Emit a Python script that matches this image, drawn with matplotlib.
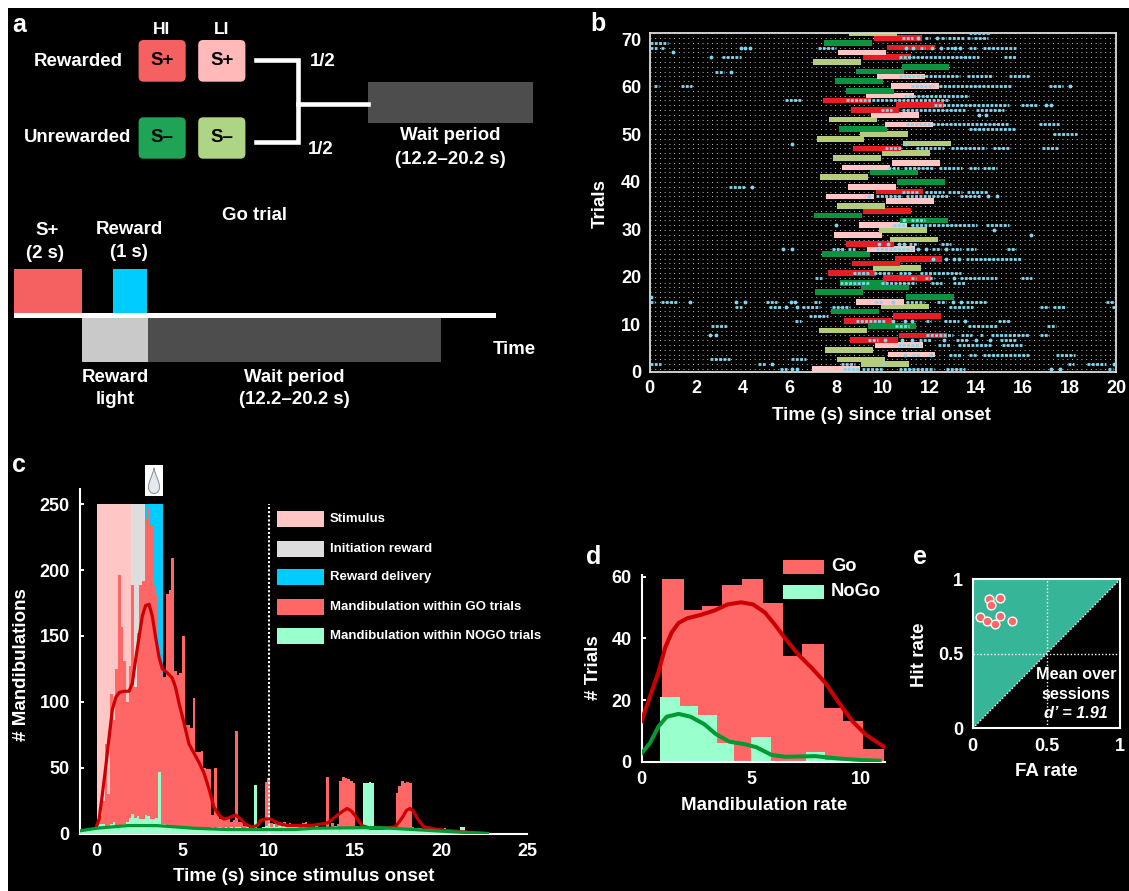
import numpy as np
import matplotlib
matplotlib.use("Agg")
import matplotlib.pyplot as plt
from matplotlib.patches import Rectangle, FancyBboxPatch, PathPatch, Polygon
from matplotlib.path import Path

plt.rcParams['font.family'] = ['Liberation Sans', 'DejaVu Sans']
plt.rcParams['font.weight'] = 'bold'
plt.rcParams['axes.labelweight'] = 'bold'

W, H = 1129, 891
PINK, RED, GREEN, OLIVE = '#ffc6c6', '#e81c24', '#0a9440', '#b5cd7a'

# ---- panel b: stimulus onset per trial (trial 0..70), stimulus type, mandibulation runs
stim_onset = [6.96, 9.08, 8.04, 10.2, 7.52, 9.66, 8.58, 10.69, 7.25, 9.37, 8.33, 10.43, 7.78, 9.92, 8.85,
              10.98, 7.09, 9.05, 8.14, 10.02, 7.65, 9.57, 8.68, 10.5, 7.38, 9.31, 8.42, 10.3, 7.91, 9.85,
              8.97, 10.74, 7.04, 9.15, 8.03, 10.14, 7.58, 9.69, 8.5, 10.6, 7.3, 9.44, 8.26, 10.4, 7.85,
              9.96, 8.72, 10.86, 7.16, 9.02, 8.11, 10.09, 7.69, 9.5, 8.62, 10.57, 7.43, 9.27, 8.42, 10.35,
              7.95, 9.75, 8.85, 10.8, 7.0, 9.14, 8.07, 10.18, 7.48, 9.62, 8.55]
stim_type = list("POOPOPRROG" "RRGOPGGGGR" "RORRGPROPO" "PGGROPPRPG" "OGPPOOROOO" "GPOPRRRPGP" "GPGGORPRGR" "O")
stim_duration = 2.05
spike_runs = {
    70: [(13.7, 14.6)],
    69: [(10.8, 11.3), 11.5, (11.8, 12.0), 12.3, (12.5, 12.7), (12.8, 13.5), (13.6, 13.8), (13.9, 14.5)],
    68: [(0.0, 0.8)],
    67: [(0.0, 0.3), (0.5, 0.6), 3.9, 4.1, 4.3, (7.2, 8.0), 11.0, 11.3, (11.6, 11.8), 12.1, 12.5, (12.7, 13.0), 13.1, 13.3, (13.7, 14.0), (14.3, 15.7)],
    66: [1.0],
    65: [2.65, (3.1, 3.9), (10.7, 14.1), (15.2, 15.7)],
    62: [(2.8, 3.2), 3.5],
    61: [(10.7, 13.3), (13.6, 14.7), (15.4, 16.3)],
    59: [(0.2, 0.4), (1.35, 1.8), (11.2, 12.2), (12.4, 15.5), (17.1, 17.7), 18.0],
    57: [(10.9, 13.7)],
    56: [(5.8, 6.5), (8.4, 12.8)],
    55: [(12.2, 15.4), (15.9, 16.6), 17.0, 17.2],
    54: [(9.9, 10.4), (10.8, 13.5), (14.0, 15.2)],
    53: [14.1, 14.4],
    51: [(11.0, 12.0), (12.1, 15.4), (16.7, 17.6)],
    50: [(13.7, 15.7)],
    49: [(17.3, 18.3)],
    47: [6.1, 11.0],
    46: [(10.1, 10.8), (11.4, 12.6), (12.9, 14.4), (14.7, 15.4), (16.8, 17.5)],
    42: [(10.2, 10.7), (10.9, 12.2), (12.4, 13.4), (13.7, 14.1), (14.3, 14.9)],
    38: [(3.4, 4.1), 4.4],
    37: [(10.8, 11.5), (11.8, 12.6), (12.8, 13.4), (13.6, 14.5)],
    36: [9.4, (9.7, 10.8), (11.0, 12.8), (13.3, 14.2), 14.5, 14.9],
    31: [10.9, (11.2, 11.8)],
    30: [8.0, (10.45, 11.0), (11.2, 14.05), (14.4, 15.4)],
    29: [14.75],
    28: [16.35],
    26: [9.85, 10.2, 10.7, 10.9, (11.1, 11.5), (12.5, 12.9)],
    25: [5.7, 6.1, (7.8, 8.35), (8.5, 8.8), (9.7, 11.3), 11.5, 11.85, (12.1, 12.5), 12.7, (12.9, 13.35), (13.55, 14.0), (15.3, 15.7)],
    23: [12.15, 12.7, 13.05, 13.25, (13.55, 15.95)],
    20: [(8.7, 9.4), (9.6, 10.4), (10.7, 11.2), (11.6, 13.35)],
    19: [(7.1, 7.4), (11.2, 11.4), (11.8, 12.2), 13.05, (13.3, 14.9), (15.9, 16.4)],
    18: [(8.15, 9.4), (9.9, 11.4), (12.05, 12.55), (13.0, 13.5)],
    15: [0.05],
    14: [(0.0, 0.25), (0.5, 1.2), 1.75, 3.7, 4.1, (5.0, 5.45), 6.05, 6.25, (7.05, 7.3), (9.65, 9.95), 10.45, (11.0, 11.75), (12.3, 12.7), 13.0, 13.35, (13.55, 14.45), (19.55, 20.0)],
    13: [(3.65, 3.95), (5.1, 5.65), 5.85, 6.3, (6.55, 7.3), (7.8, 8.6), (12.85, 13.85), (16.75, 17.1), (17.3, 17.85), (19.8, 20.0)],
    11: [(6.85, 7.65)],
    10: [(6.25, 6.5), (8.85, 10.15), 10.45, 10.95, 11.25, (11.85, 12.05), (12.6, 13.25), 13.5, (14.95, 15.45)],
    9: [(2.65, 3.3), (10.5, 11.1), (13.65, 14.95), (17.05, 17.4)],
    7: [2.6, 2.85, (11.85, 13.0), (13.35, 13.8), (14.15, 14.35), (14.65, 16.25), (16.75, 17.1)],
    6: [(9.35, 9.8), 10.1, 10.8, 11.25, (11.55, 12.1), 12.6, (13.15, 13.7), 14.0, 14.6, (15.0, 15.75)],
    5: [(10.65, 11.6), (12.35, 12.9), (13.2, 14.65), (15.1, 15.95)],
    3: [10.95, (11.25, 11.55), 12.05, (12.85, 13.35), (13.7, 14.05), (14.3, 16.3), (17.4, 18.25)],
    2: [(2.6, 3.45), (6.05, 6.7)],
    1: [(0.0, 0.5), (4.65, 5.0), 5.25, (8.2, 8.8), (9.95, 10.15), (17.95, 18.2), (18.75, 19.55), 19.9],
    0: [(5.6, 5.9), 6.1, 6.3, (8.3, 9.0), (9.1, 10.0), (10.7, 12.2), (12.7, 13.5), 17.2, 17.6, (19.65, 19.85)],
}

# ---- panel c: histogram counts, bins of 0.155 s from t = 0
bin_width_c = 0.155
go_counts = [10, 13, 25, 68, 30, 106, 86, 125, 196, 157, 131, 100, 127, 189, 111, 152, 189, 192, 239, 247,
             234, 189, 182, 134, 121, 119, 182, 185, 209, 123, 120, 122, 150, 82, 82, 80, 103, 62, 62, 63,
             50, 49, 49, 14, 50, 14, 11, 11, 11, 11, 9, 10, 78, 9, 9, 6, 6, 4, 3, 3,
             0, 2, 2, 39, 42, 8, 5, 8, 9, 7, 9, 6, 8, 6, 7, 6, 7, 8, 9, 6,
             5, 5, 5, 5, 5, 5, 43, 4, 8, 6, 7, 40, 43, 42, 41, 40, 38, 6, 5, 5,
             4, 3, 3, 3, 2, 3, 3, 2, 3, 3, 2, 3, 31, 36, 40, 38, 39, 38, 5, 4,
             4, 4, 3, 2, 1, 3, 2, 1, 3, 1]
nogo_counts = [6, 7, 7, 6, 5, 7, 9, 5, 5, 5, 7, 9, 12, 15, 12, 13, 11, 11, 14, 13,
               11, 11, 12, 47, 7, 7, 6, 5, 5, 5, 5, 4, 5, 4, 5, 4, 5, 5, 4, 5,
               5, 4, 4, 5, 4, 5, 5, 4, 5, 4, 5, 4, 5, 5, 4, 4, 5, 4, 5, 37,
               4, 4, 5, 6, 6, 5, 7, 5, 6, 5, 7, 5, 6, 5, 5, 6, 4, 5, 4, 5,
               5, 5, 6, 5, 5, 4, 5, 4, 5, 6, 5, 4, 5, 5, 4, 5, 4, 5, 5, 6,
               38, 38, 39, 38, 5, 4, 5, 4, 4, 5, 4, 4, 5, 4, 4, 4, 3, 4, 3, 3,
               3, 3, 3, 2, 3, 3, 2, 3, 2, 3, 4, 3, 3, 3, 2, 3, 5, 5, 2, 2, 1, 2, 1]
kde_go_t = [0, .14, .33, .52, .72, .91, 1.10, 1.30, 1.59, 1.88, 2.07, 2.26, 2.46, 2.65, 2.84, 3.04, 3.23, 3.42,
            3.62, 3.81, 4.10, 4.39, 4.58, 4.78, 5.07, 5.36, 5.65, 5.94, 6.23, 6.52, 6.81, 7.10, 7.39, 7.68,
            8.07, 8.36, 8.65, 9.03, 9.32, 9.52, 9.81, 10.1, 10.48, 11.06, 12.42, 13.4, 13.9, 14.3, 14.55, 14.8,
            15.05, 15.4, 15.9, 16.6, 17.35, 17.75, 18.0, 18.2, 18.4, 18.6, 19.0, 19.8, 21.5, 22.5]
kde_go_v = [6, 11, 30, 50, 73, 94, 103, 107, 108, 108, 114, 132, 149, 165, 173, 174, 165, 149,
            134, 125, 122, 118, 111, 99, 84, 68, 61, 54, 46, 34, 20, 14, 11, 12,
            14, 11, 7, 5, 6, 10, 11, 11, 8, 6, 6, 8, 13, 17, 19, 17,
            13, 6, 4, 4, 5, 12, 17.5, 19, 17, 12, 5, 3, 1, .2]
kde_nogo_t = [-1, 0, 1.78, 3.5, 5.65, 7.6, 11.5, 12.6, 16.4, 18.4, 20.4, 22.3, 22.7]
kde_nogo_v = [2, 4, 6, 6, 4, 3, 3, 4, 4.5, 3, 1.5, .2, 0]
legend_c_labels = ['Stimulus', 'Initiation reward', 'Reward delivery',
                   'Mandibulation within GO trials', 'Mandibulation within NOGO trials']
legend_c_colors = ['#ffc6c6', '#dddddd', '#00ccff', '#ff6666', '#99ffcc']
phase_edges = [0, 2.0, 2.78, 3.87]
phase_colors = ['#ffc6c6', '#dddddd', '#00ccff']

# ---- panel d
go_edges_d = [.95, 1.92, 2.77, 3.68, 4.58, 5.55, 6.46, 7.31, 8.29, 9.18, 10.11, 11.03]
go_hist_d = [59.4, 49.3, 50.4, 57.4, 59.4, 51.5, 34.3, 38.2, 17.3, 13.2, 4]
nogo_edges_d = [.85, 1.74, 2.58, 3.42, 4.23, 5.0, 5.89, 7.49, 8.38, 10.1]
nogo_hist_d = [21.1, 18.2, 15.2, 6.2, 0, 8.1, 0, 3.1, 0.5]
kde_d_go_x = [0, .38, .77, 1.08, 1.38, 1.69, 2.08, 2.69, 3.31, 3.92, 4.54, 5.08, 5.62, 6.08, 6.54, 7.15, 7.77, 8.38, 9.0, 9.62, 10.23, 10.69, 11.08]
kde_d_go_y = [13.2, 21, 29, 37, 42, 45, 46.5, 47.6, 49, 51, 51.7, 51, 48.4, 44.4, 40, 34.7, 30.3, 25.5, 19, 13, 8.7, 6.5, 4.7]
kde_d_nogo_x = [0, .38, .77, 1.15, 1.69, 2.23, 2.85, 3.38, 4.0, 4.69, 5.23, 5.92, 6.54, 7.92, 8.85, 10.08, 10.85]
kde_d_nogo_y = [2.7, 6, 11.4, 14.6, 15.5, 14.6, 12.2, 9, 6.5, 5.7, 4.7, 2.2, 1.6, 1.8, 1.1, .5, .3]

# ---- panel e
fa_rate = [0.11, 0.183, 0.126, 0.05, 0.096, 0.149, 0.183, 0.263]
hit_rate = [0.866, 0.872, 0.83, 0.747, 0.718, 0.70, 0.756, 0.718]

fig = plt.figure(figsize=(W / 100, H / 100), dpi=100, facecolor='black')


def add_ax(l, t, r, b, **kw):
    ax = fig.add_axes([l / W, 1 - b / H, (r - l) / W, (b - t) / H], facecolor='none', **kw)
    ax.tick_params(colors='white', labelsize=13, width=1.4)
    for s in ax.spines.values():
        s.set_color('white')
        s.set_linewidth(1.5)
    ax._box = (l, t, r, b)
    return ax


def labels(ax, xlab, ylab, xpos, ypos):
    """Axis labels centred on pixel positions xpos=(x, y), ypos=(x, y)."""
    l, t, r, b = ax._box
    ax.set_xlabel(xlab, fontsize=13.5, color='white', va='center')
    ax.set_ylabel(ylab, fontsize=13.5, color='white', va='center')
    ax.xaxis.set_label_coords((xpos[0] - l) / (r - l), (b - xpos[1]) / (b - t))
    ax.yaxis.set_label_coords((ypos[0] - l) / (r - l), (b - ypos[1]) / (b - t))


ov = fig.add_axes([0, 0, 1, 1], facecolor='none', zorder=0)
ov.set_xlim(0, W)
ov.set_ylim(H, 0)
ov.axis('off')


def T(x, y, s, size=13.4, color='white', **kw):
    kw.setdefault('ha', 'center')
    kw.setdefault('va', 'center')
    ov.text(x, y, s, fontsize=size, color=color, **kw)


def R(x0, y0, x1, y1, c, **kw):
    ov.add_patch(Rectangle((x0, y0), x1 - x0, y1 - y0, facecolor=c, edgecolor='none', **kw))


# white margins
R(0, 0, W, 8, 'white')
R(0, 0, 8, H, 'white')

# panel letters
for lx, ly, lt in [(19, 25, 'a'), (598, 24, 'b'), (19, 465, 'c'), (594, 557, 'd'), (920, 557, 'e')]:
    T(lx, ly, lt, size=18)

# ---- panel a schematic
for (x0, x1, y0, y1, c, s) in [(138.6, 185.7, 40, 81.7, '#f56060', 'S+'), (198.2, 245.4, 40, 81.7, '#ffb9b9', 'S+'),
                               (138.6, 185.7, 117.3, 158.7, '#1fa355', 'S–'), (198.2, 245.4, 117.3, 158.7, '#aed583', 'S–')]:
    ov.add_patch(FancyBboxPatch((x0, y0), x1 - x0, y1 - y0, boxstyle='round,pad=0,rounding_size=5',
                                facecolor=c, edgecolor='none'))
    T((x0 + x1) / 2, (y0 + y1) / 2, s, color='black')
T(162, 30, 'HI', size=12.5)
T(221.5, 30, 'LI', size=12.5)
T(78, 61, 'Rewarded')
T(78, 137.7, 'Unrewarded')
ov.plot([256.4, 298.2, 298.2, 256.4], [60, 60, 142.3, 142.3], color='white', lw=3.3, solid_joinstyle='miter')
ov.plot([298.2, 368.2], [104, 104], color='white', lw=3.3)
T(323, 62, '1/2')
T(320.7, 150, '1/2')
R(368.2, 82, 533, 122.7, '#4d4d4d')
T(450.7, 135, 'Wait period')
T(450.7, 159.3, '(12.2–20.2 s)')
T(254.6, 215, 'Go trial')
T(47.5, 230.7, 'S+')
T(45.4, 253.3, '(2 s)')
T(129.3, 229.3, 'Reward')
T(129.3, 252.7, '(1 s)')
R(13.6, 269, 82, 313.5, '#f56060')
R(112.5, 269, 147, 313.5, '#00ccff')
R(82, 318, 147.5, 362.3, '#c9c9c9')
R(147.5, 318, 440.7, 362.3, '#4d4d4d')
R(13.6, 312.7, 496.4, 318, 'white')
T(514, 350, 'Time')
T(115, 378, 'Reward')
T(115, 400, 'light')
T(294, 378, 'Wait period')
T(294, 400, '(12.2–20.2 s)')

# ---- panel b
axb = add_ax(649.6, 32.7, 1116.2, 371.7)
rows = np.arange(len(stim_onset))
axb.hlines(rows, 0, 20, color='white', lw=0.55, ls=(0, (1.2, 5.0)), zorder=1)
type_colors = {'P': PINK, 'R': RED, 'G': GREEN, 'O': OLIVE}
axb.barh(rows, [stim_duration] * len(rows), left=stim_onset, height=1.18,
         color=[type_colors[c] for c in stim_type], zorder=2)
for row, runs in spike_runs.items():
    for run in runs:
        if isinstance(run, tuple):
            axb.plot(run, [row, row], color='#7fd8ee', lw=2.0, ls=(0, (1.05, 0.5)),
                     dash_capstyle='butt', zorder=3)
        else:
            axb.plot([run], [row], 'o', color='#7fd8ee', ms=2.8, mew=0, zorder=3)
axb.set_xlim(0, 20)
axb.set_ylim(-0.5, 70.12)
axb.set_xticks(np.arange(0, 21, 2))
yt = np.arange(0, 71, 10)
axb.set_yticks(-0.56 + yt * 0.9902)
axb.set_yticklabels([str(v) for v in yt])
axb.tick_params(length=0, pad=6)
for s in axb.spines.values():
    s.set_color('#dddddd')
    s.set_linewidth(1.3)
labels(axb, 'Time (s) since trial onset', 'Trials', (882, 416), (600, 204))

# ---- panel c
axc = add_ax(79.5, 489, 527, 833.5)
for i, c in enumerate(phase_colors):
    axc.bar(phase_edges[i], 250, width=phase_edges[i + 1] - phase_edges[i], align='edge', color=c, zorder=1)
bins_go = np.arange(len(go_counts)) * bin_width_c
bins_nogo = np.arange(len(nogo_counts)) * bin_width_c
axc.bar(bins_go, go_counts, width=bin_width_c, align='edge', color='#ff6666', zorder=2)
axc.bar(bins_nogo, nogo_counts, width=bin_width_c, align='edge', color='#99ffcc', zorder=3)
axc.fill_between(kde_nogo_t, 0, kde_nogo_v, color='#99ffcc', lw=0, zorder=3)
axc.plot([10, 10], [0, 250], color='white', lw=1.5, ls=(0, (1, 1)), zorder=4)
axc.plot(kde_go_t, kde_go_v, color='#cc0000', lw=2.3, zorder=5)
axc.plot(kde_nogo_t, kde_nogo_v, color='#009933', lw=2.3, zorder=6)
axc.set_xlim(-1, 25)
axc.set_ylim(0, 261.5)
axc.set_xticks([0, 5, 10, 15, 20, 25])
axc.set_yticks(np.arange(0, 251, 50))
axc.tick_params(axis='x', length=0, pad=7)
axc.tick_params(axis='y', length=3, direction='in', pad=7)
axc.spines[['top', 'right']].set_visible(False)
labels(axc, 'Time (s) since stimulus onset', '# Mandibulations', (303.7, 876.7), (22, 665))
for yc, lab, col in zip([519.3, 548.7, 577.3, 607, 636], legend_c_labels, legend_c_colors):
    R(276.7, yc - 8, 323.7, yc + 8, col)
    T(330, yc, lab, size=9.5, ha='left')

# drop icon
R(145, 465, 162.7, 496, 'white', zorder=3)
drop = Path([(154, 468), (153, 475), (148.5, 481), (148.5, 487), (148.5, 491), (151, 493.5), (154, 493.5),
             (157, 493.5), (159.5, 491), (159.5, 487), (159.5, 481), (155, 475), (154, 468), (154, 468)],
            [Path.MOVETO, Path.CURVE4, Path.CURVE4, Path.CURVE4, Path.CURVE4, Path.CURVE4, Path.CURVE4,
             Path.CURVE4, Path.CURVE4, Path.CURVE4, Path.CURVE4, Path.CURVE4, Path.CURVE4, Path.CLOSEPOLY])
ov.add_patch(PathPatch(drop, facecolor='#e3e9ec', edgecolor='#8d989e', lw=0.8, zorder=4))

# ---- panel d
axd = add_ax(641.5, 575, 885, 761.7)
axd.bar(go_edges_d[:-1], go_hist_d, width=np.diff(go_edges_d), align='edge', color='#ff6666', zorder=1)
axd.bar(nogo_edges_d[:-1], nogo_hist_d, width=np.diff(nogo_edges_d), align='edge', color='#99ffcc', zorder=2)
axd.plot(kde_d_go_x, kde_d_go_y, color='#cc0000', lw=2.9, zorder=3)
axd.plot(kde_d_nogo_x, kde_d_nogo_y, color='#009933', lw=2.9, zorder=3)
axd.set_xlim(0, 11.09)
axd.set_ylim(0, 60.55)
axd.set_xticks([0, 5, 10])
axd.set_yticks([0, 20, 40, 60])
axd.tick_params(axis='x', length=0, pad=7)
axd.tick_params(axis='y', length=3, direction='in', pad=7)
axd.spines[['top', 'right']].set_visible(False)
labels(axd, 'Mandibulation rate', '# Trials', (764, 805), (594, 668))
for yc, lab, col in [(566.7, 'Go', '#ff6666'), (591.7, 'NoGo', '#99ffcc')]:
    R(783, yc - 7, 823.7, yc + 7, col)
    T(831, yc, lab, size=13.2, ha='left')

# ---- panel e
axe = add_ax(972.8, 579.3, 1120.2, 728.3)
axe.add_patch(Polygon([(0, 0), (1, 1), (0, 1)], closed=True, facecolor='#36b598', edgecolor='none', zorder=1))
axe.plot([0, 1], [0, 1], color='white', lw=1, ls=(0, (1, 1.5)), zorder=2)
axe.plot([0.5, 0.5], [0, 1], color='white', lw=1, ls=(0, (1, 1.5)), zorder=2)
axe.plot([0, 1], [0.5, 0.5], color='white', lw=1, ls=(0, (1, 1.5)), zorder=2)
axe.scatter(fa_rate, hit_rate, s=40, color='#ff6666', edgecolor='white', linewidth=1, zorder=3)
axe.set_xlim(0, 1)
axe.set_ylim(0, 1)
axe.set_xticks([0, 0.5, 1])
axe.set_xticklabels(['0', '0.5', '1'])
axe.set_yticks([0, 0.5, 1])
axe.set_yticklabels(['0', '0.5', '1'])
axe.tick_params(length=0, pad=7)
labels(axe, 'FA rate', 'Hit rate', (1046, 771.7), (920, 655))
axe.text(0.70, 0.358, 'Mean over', fontsize=11.7, color='white', ha='center', va='center', zorder=4)
axe.text(0.70, 0.23, 'sessions', fontsize=11.7, color='white', ha='center', va='center', zorder=4)
axe.text(0.70, 0.10, "d’ = 1.91", fontsize=11.7, color='white', style='italic', ha='center', va='center', zorder=4)

fig.savefig('out.png', dpi=100, facecolor='black')
